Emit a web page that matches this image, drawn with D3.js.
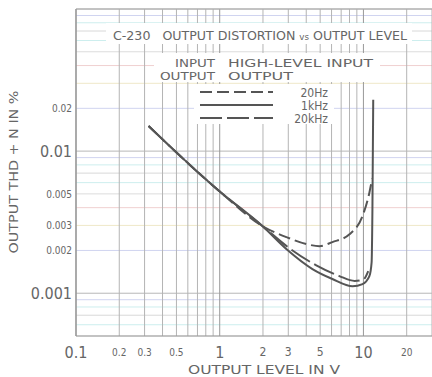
<!DOCTYPE html>
<html>
<head>
<meta charset="utf-8">
<script src="https://cdn.jsdelivr.net/npm/d3@7"></script>
<style>
  body { margin: 0; background: #fff; }
  svg { display: block; }
  text { font-family: "DejaVu Sans Condensed", "Liberation Sans Narrow", "DejaVu Sans", sans-serif; fill: #666; }
</style>
</head>
<body>
<figure id="chart" style="margin:0"></figure>
<script>
// data (V, THD+N %)
const hz20 = [[0.32, 0.015], [1.0, 0.0052], [1.99, 0.00296], [2.92, 0.00248], [4.0, 0.00222],
  [4.95, 0.00214], [6.08, 0.00229], [8.0, 0.0026], [9.86, 0.0035], [11.0, 0.0051], [11.5, 0.0064]];
const khz1 = [[0.32, 0.015], [1.0, 0.0052], [1.99, 0.00296], [2.92, 0.00204], [4.42, 0.00148],
  [6.08, 0.00126], [8.4, 0.00112], [9.86, 0.00116], [11.0, 0.00132], [11.4, 0.00165],
  [11.55, 0.0039], [11.7, 0.023]];
const khz20 = [[0.32, 0.015], [1.0, 0.0052], [1.99, 0.00296], [3.06, 0.00207], [4.7, 0.00157],
  [6.8, 0.00132], [8.7, 0.00122], [10.0, 0.00125], [10.8, 0.00143]];

const xTicks = [0.1, 0.2, 0.3, 0.5, 1, 2, 3, 5, 10, 20];
const xBig = [0.1, 1, 10];
const yTicks = [0.02, 0.01, 0.005, 0.003, 0.002, 0.001];
const yBig = [0.01, 0.001];
const seriesNames = ["20Hz", "1kHz", "20kHz"];

const W = 432, H = 377;
const svg = d3.select("#chart").append("svg").attr("width", W).attr("height", H);

const x = d3.scaleLog().domain([0.1, 30]).range([76, 432]);
const y = d3.scaleLog().domain([0.0005, 0.1]).range([336, 9]);

// graph paper grid
const hVals = [];
[0.0001, 0.001, 0.01].forEach(dec => { for (let i = 1; i <= 9; i++) hVals.push(dec * i); });
const hv = hVals.filter(v => v >= 0.0005 && v <= 0.1001);
hv.push(0.1);
const paleCols = ["#dcdcdc", "#d0d4f0", "#f0d0d0", "#cdeeee", "#efe8c8", "#d8d8d8", "#d0d4f0", "#cdeeee", "#f0d0d0"];
svg.append("g").selectAll("line").data(hv).enter().append("line")
  .attr("x1", 76).attr("x2", W)
  .attr("y1", d => y(d)).attr("y2", d => y(d))
  .attr("stroke", (d, i) => {
    const m = Math.round(d / Math.pow(10, Math.floor(Math.log10(d) + 1e-9)));
    return m === 1 ? "#b8b8b8" : paleCols[(i * 7) % paleCols.length];
  })
  .attr("stroke-width", 1);

const vVals = [];
[0.1, 1, 10].forEach(dec => { for (let i = 1; i <= 9; i++) vVals.push(dec * i); });
const vv = vVals.filter(v => v <= 30);
svg.append("g").selectAll("line").data(vv).enter().append("line")
  .attr("x1", d => x(d)).attr("x2", d => x(d))
  .attr("y1", 9).attr("y2", 336)
  .attr("stroke", d => xBig.includes(d) ? "#999" : "#b4b4b4")
  .attr("stroke-width", 1);

// frame
svg.append("line").attr("x1", 76).attr("x2", W).attr("y1", 9).attr("y2", 9).attr("stroke", "#aaa");
svg.append("line").attr("x1", 76).attr("x2", W).attr("y1", 336).attr("y2", 336).attr("stroke", "#999");
svg.append("line").attr("x1", 76).attr("x2", 76).attr("y1", 9).attr("y2", 336).attr("stroke", "#999").attr("stroke-width", 1.3);

// white patches behind title and legend
svg.append("rect").attr("x", 106).attr("y", 23).attr("width", 306).attr("height", 21).attr("fill", "#fff");
svg.append("rect").attr("x", 154).attr("y", 53).attr("width", 226).attr("height", 29).attr("fill", "#fff");
svg.append("rect").attr("x", 194).attr("y", 84).attr("width", 140).attr("height", 40).attr("fill", "#fff");

const title = svg.append("text").attr("x", 113).attr("y", 40).attr("font-size", 13)
  .style("white-space", "pre");
title.append("tspan").text("C-230   OUTPUT DISTORTION ");
title.append("tspan").attr("font-size", 9).text("vs");
title.append("tspan").text(" OUTPUT LEVEL");
title.attr("textLength", 294).attr("lengthAdjust", "spacingAndGlyphs");

svg.append("text").attr("x", 215).attr("y", 67).attr("font-size", 11)
  .attr("text-anchor", "end").attr("textLength", 40).attr("lengthAdjust", "spacingAndGlyphs").text("INPUT");
svg.append("text").attr("x", 228).attr("y", 67).attr("font-size", 11)
  .attr("textLength", 145).attr("lengthAdjust", "spacingAndGlyphs").text("HIGH-LEVEL INPUT");
svg.append("text").attr("x", 215).attr("y", 80).attr("font-size", 11)
  .attr("text-anchor", "end").attr("textLength", 55).attr("lengthAdjust", "spacingAndGlyphs").text("OUTPUT");
svg.append("text").attr("x", 228).attr("y", 80).attr("font-size", 11)
  .attr("textLength", 65).attr("lengthAdjust", "spacingAndGlyphs").text("OUTPUT");

const dashes = ["12,5", null, "22,5"];
const legY = d3.scalePoint().domain(seriesNames).range([92, 118]);
seriesNames.forEach((s, i) => {
  svg.append("line").attr("x1", 200).attr("x2", 273)
    .attr("y1", legY(s)).attr("y2", legY(s))
    .attr("stroke", "#555").attr("stroke-width", 2)
    .attr("stroke-dasharray", dashes[i]);
  svg.append("text").attr("x", 328).attr("y", legY(s) + 4.5).attr("font-size", 12)
    .attr("text-anchor", "end").text(s);
});

// curves
const line = d3.line().x(d => x(d[0])).y(d => y(d[1])).curve(d3.curveMonotoneX);
[hz20, khz1, khz20].forEach((data, i) => {
  svg.append("path").datum(data).attr("d", line)
    .attr("fill", "none").attr("stroke", "#555").attr("stroke-width", 2)
    .attr("stroke-dasharray", dashes[i]);
});

// tick labels
svg.append("g").selectAll("text").data(xTicks).enter().append("text")
  .attr("x", d => x(d)).attr("y", d => xBig.includes(d) ? 358 : 356)
  .attr("text-anchor", "middle")
  .attr("font-size", d => xBig.includes(d) ? 16 : (d === 1 || d === 2 || d === 3 || d === 5 ? 12 : 10))
  .text(d => d);

svg.append("g").selectAll("text").data(yTicks).enter().append("text")
  .attr("x", 72).attr("y", d => y(d) + (yBig.includes(d) ? 6 : 4))
  .attr("text-anchor", "end")
  .attr("font-size", d => yBig.includes(d) ? 16 : 10)
  .text(d => d);

svg.append("text").attr("x", 264).attr("y", 374).attr("font-size", 13).attr("text-anchor", "middle")
  .attr("textLength", 152).attr("lengthAdjust", "spacingAndGlyphs").text("OUTPUT LEVEL IN V");

svg.append("text").attr("transform", "translate(18,172) rotate(-90)").attr("font-size", 13)
  .attr("text-anchor", "middle")
  .attr("textLength", 163).attr("lengthAdjust", "spacingAndGlyphs").text("OUTPUT THD + N IN %");
</script>
</body>
</html>
